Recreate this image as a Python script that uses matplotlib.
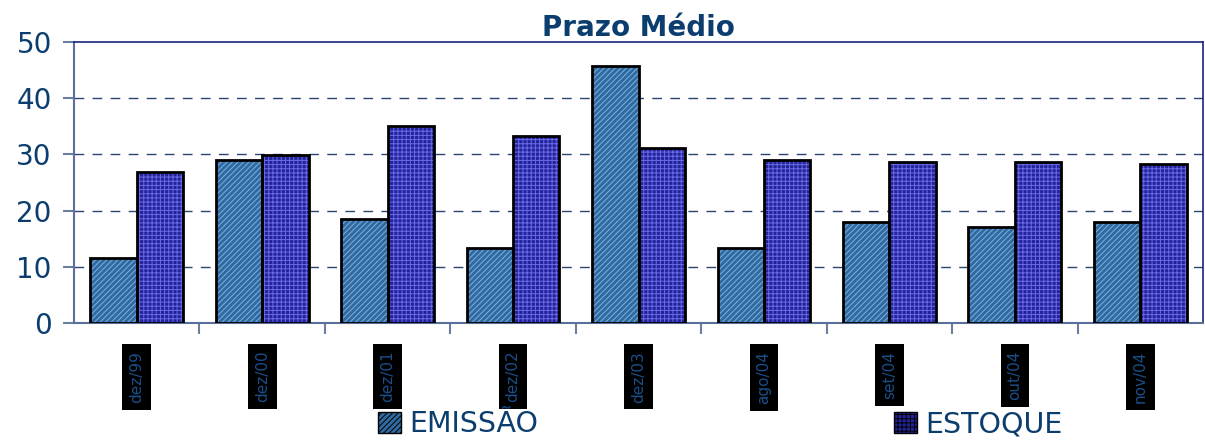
import numpy as np
import matplotlib.pyplot as plt
from matplotlib.patches import Patch

plt.rcParams['font.family'] = ['DejaVu Sans']
plt.rcParams['hatch.linewidth'] = 0.7

categorias = ["dez/99", "dez/00", "dez/01", "dez/02", "dez/03",
              "ago/04", "set/04", "out/04", "nov/04"]
emissao = [11.6, 29.0, 18.5, 13.3, 45.7, 13.3, 18.0, 17.1, 18.0]
estoque = [26.9, 29.9, 35.0, 33.3, 31.1, 29.0, 28.6, 28.6, 28.3]

azul = "#0b3d6e"
cor_em, hatch_em = "#2f6aa0", "#7fb0e0"
cor_es, hatch_es = "#24249a", "#6a6ae8"

fig = plt.figure(figsize=(12.05, 4.44), dpi=100)
ax = fig.add_axes([0.0614, 0.2725, 0.937, 0.633])

x = np.arange(len(categorias))
w = 0.37
# fill with hatch in a lighter colour, then black outline on top
ax.bar(x - w / 2, emissao, w, color=cor_em, edgecolor=hatch_em, linewidth=0,
       hatch="//////", zorder=3)
ax.bar(x - w / 2, emissao, w, fill=False, edgecolor="black", linewidth=2, zorder=4)
ax.bar(x + w / 2, estoque, w, color=cor_es, edgecolor=hatch_es, linewidth=0,
       hatch="++++", zorder=3)
ax.bar(x + w / 2, estoque, w, fill=False, edgecolor="black", linewidth=2, zorder=4)

ax.set_xlim(-0.5, len(categorias) - 0.5)
ax.set_ylim(0, 50)
ax.set_yticks([0, 10, 20, 30, 40, 50])
ax.tick_params(axis="y", labelsize=20, labelcolor=azul, color="#6a7fa0",
               length=8, width=1.5, direction="out", pad=8)
for yv in [10, 20, 30, 40]:
    ax.axhline(yv, color="#2c4570", linestyle=(0, (7, 6)), linewidth=1, zorder=1)

ax.set_xticks(x)
ax.set_xticklabels(categorias, rotation=90, fontsize=11, color="#1a4f8a")
ax.tick_params(axis="x", length=0, pad=20)
for lab in ax.get_xticklabels():
    lab.set_bbox(dict(facecolor="black", edgecolor="none", pad=5))
ax.set_xticks(np.arange(len(categorias) - 1) + 0.5, minor=True)
ax.tick_params(axis="x", which="minor", length=8, width=1.5, color="#6a7fa0",
               direction="out")

for s in ["left", "bottom"]:
    ax.spines[s].set_color("#5a6f9a")
    ax.spines[s].set_linewidth(1.5)
for s in ["top", "right"]:
    ax.spines[s].set_color("#1a237e")
    ax.spines[s].set_linewidth(1.2)

ax.set_title("Prazo Médio", fontsize=20, fontweight="bold", color=azul, pad=3)

handles = [Patch(facecolor=cor_em, edgecolor="black", hatch="//////", label="EMISSÃO"),
           Patch(facecolor=cor_es, edgecolor="black", hatch="++++", label="ESTOQUE")]
leg = fig.legend(handles=handles, loc="lower center", bbox_to_anchor=(0.598, -0.045),
                 ncol=2, frameon=False, fontsize=20.5, columnspacing=12.5,
                 handlelength=0.8, handleheight=0.8, handletextpad=0.3)
for t in leg.get_texts():
    t.set_color(azul)

fig.savefig("out.png", dpi=100)
